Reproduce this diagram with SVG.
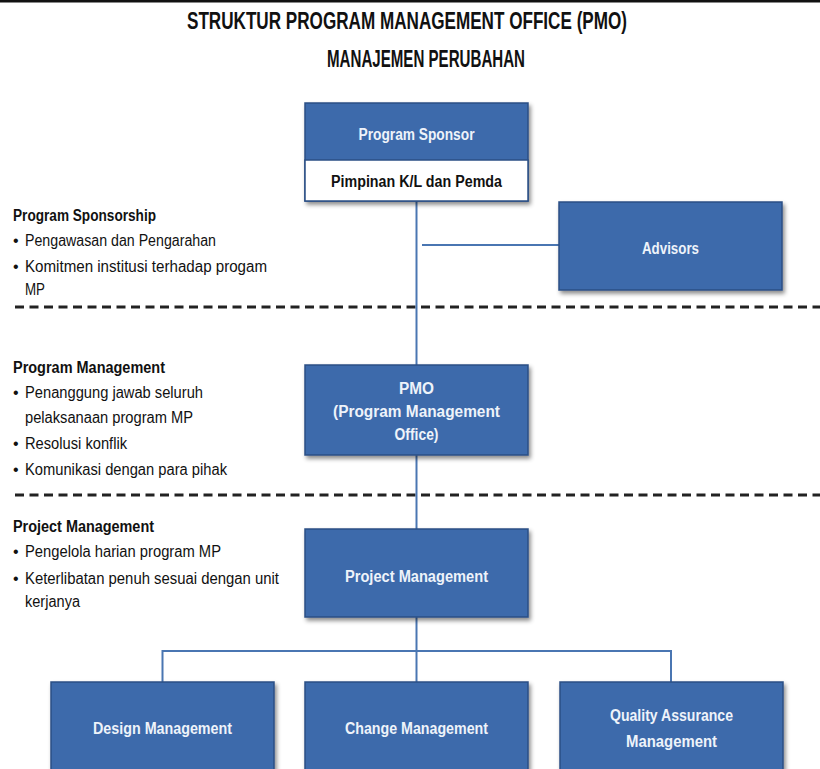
<svg xmlns="http://www.w3.org/2000/svg" width="820" height="769" viewBox="0 0 820 769">
<defs>
<filter id="sh" x="-10%" y="-10%" width="125%" height="130%">
<feDropShadow dx="2" dy="3" stdDeviation="2" flood-color="#000" flood-opacity="0.45"/>
</filter>
<style>
.box{fill:#3d6aab;stroke:#2b4f85;stroke-width:1.5;filter:url(#sh)}
.wbox{fill:#ffffff;stroke:#2b4f85;stroke-width:1.5}
.bt{font-family:"Liberation Sans",Arial,sans-serif;font-weight:bold;font-size:16px;fill:#eef3fa;text-anchor:middle}
.bk{font-family:"Liberation Sans",Arial,sans-serif;font-weight:bold;font-size:16px;fill:#111;text-anchor:middle}
.title{font-family:"Liberation Sans",Arial,sans-serif;font-weight:bold;font-size:24px;fill:#111}
.h{font-family:"Liberation Sans",Arial,sans-serif;font-weight:bold;font-size:16px;fill:#111}
.t{font-family:"Liberation Sans",Arial,sans-serif;font-size:16px;fill:#111}
.dash{stroke:#222;stroke-width:3;stroke-dasharray:9 5.5;fill:none}
.con{stroke:#4a76b2;stroke-width:2;fill:none}
</style>
</defs>
<rect x="0" y="0" width="820" height="769" fill="#ffffff"/>
<rect x="0" y="0" width="820" height="2.5" fill="#111"/>

<g id="title">
<text class="title" x="187" y="29" textLength="440" lengthAdjust="spacingAndGlyphs">STRUKTUR PROGRAM MANAGEMENT OFFICE (PMO)</text>
<text class="title" x="327" y="67" textLength="198" lengthAdjust="spacingAndGlyphs">MANAJEMEN PERUBAHAN</text>
</g>

<g id="separators">
<line class="dash" x1="15" y1="307" x2="820" y2="307"/>
<line class="dash" x1="15" y1="495" x2="820" y2="495"/>
</g>

<g id="connectors">
<line class="con" x1="416.5" y1="201" x2="416.5" y2="365"/>
<line class="con" x1="422" y1="245" x2="559" y2="245"/>
<line class="con" x1="416.5" y1="455" x2="416.5" y2="529"/>
<line class="con" x1="416.5" y1="617" x2="416.5" y2="651"/>
<polyline class="con" points="162.5,682 162.5,651 671,651 671,682"/>
<line class="con" x1="416.5" y1="651" x2="416.5" y2="682"/>
</g>

<g id="sponsorship-text">
<text class="h" x="13" y="221" textLength="143" lengthAdjust="spacingAndGlyphs">Program Sponsorship</text>
<text class="t" x="13" y="246">•</text>
<text class="t" x="25" y="246" textLength="191" lengthAdjust="spacingAndGlyphs">Pengawasan dan Pengarahan</text>
<text class="t" x="13" y="272">•</text>
<text class="t" x="25" y="272" textLength="242" lengthAdjust="spacingAndGlyphs">Komitmen institusi terhadap progam</text>
<text class="t" x="25" y="295" textLength="20" lengthAdjust="spacingAndGlyphs">MP</text>
</g>

<g id="management-text">
<text class="h" x="13" y="373" textLength="152" lengthAdjust="spacingAndGlyphs">Program Management</text>
<text class="t" x="13" y="398">•</text>
<text class="t" x="25" y="398" textLength="178" lengthAdjust="spacingAndGlyphs">Penanggung jawab seluruh</text>
<text class="t" x="25" y="423" textLength="168" lengthAdjust="spacingAndGlyphs">pelaksanaan program MP</text>
<text class="t" x="13" y="449">•</text>
<text class="t" x="25" y="449" textLength="102" lengthAdjust="spacingAndGlyphs">Resolusi konflik</text>
<text class="t" x="13" y="475">•</text>
<text class="t" x="25" y="475" textLength="202" lengthAdjust="spacingAndGlyphs">Komunikasi dengan para pihak</text>
</g>

<g id="project-text">
<text class="h" x="13" y="532" textLength="141" lengthAdjust="spacingAndGlyphs">Project Management</text>
<text class="t" x="13" y="557">•</text>
<text class="t" x="25" y="557" textLength="196" lengthAdjust="spacingAndGlyphs">Pengelola harian program MP</text>
<text class="t" x="13" y="584">•</text>
<text class="t" x="25" y="584" textLength="254" lengthAdjust="spacingAndGlyphs">Keterlibatan penuh sesuai dengan unit</text>
<text class="t" x="25" y="607" textLength="55" lengthAdjust="spacingAndGlyphs">kerjanya</text>
</g>

<g id="program-sponsor">
<rect class="box" x="305" y="103" width="223" height="98"/>
<rect class="wbox" x="305" y="160" width="223" height="41"/>
<text class="bt" x="416.5" y="140" textLength="116" lengthAdjust="spacingAndGlyphs">Program Sponsor</text>
<text class="bk" x="416.5" y="187" textLength="171" lengthAdjust="spacingAndGlyphs">Pimpinan K/L dan Pemda</text>
</g>

<g id="advisors">
<rect class="box" x="559" y="202" width="223" height="88"/>
<text class="bt" x="670.5" y="254" textLength="57" lengthAdjust="spacingAndGlyphs">Advisors</text>
</g>

<g id="pmo">
<rect class="box" x="305" y="365" width="223" height="90"/>
<text class="bt" x="416.5" y="394" textLength="35" lengthAdjust="spacingAndGlyphs">PMO</text>
<text class="bt" x="416.5" y="417" textLength="167" lengthAdjust="spacingAndGlyphs">(Program Management</text>
<text class="bt" x="416.5" y="440" textLength="44" lengthAdjust="spacingAndGlyphs">Office)</text>
</g>

<g id="project-management">
<rect class="box" x="305" y="529" width="223" height="88"/>
<text class="bt" x="416.5" y="582" textLength="143" lengthAdjust="spacingAndGlyphs">Project Management</text>
</g>

<g id="design-management">
<rect class="box" x="51" y="682" width="223" height="95"/>
<text class="bt" x="162.5" y="734" textLength="139" lengthAdjust="spacingAndGlyphs">Design Management</text>
</g>

<g id="change-management">
<rect class="box" x="305" y="682" width="223" height="95"/>
<text class="bt" x="416.5" y="734" textLength="143" lengthAdjust="spacingAndGlyphs">Change Management</text>
</g>

<g id="quality-assurance">
<rect class="box" x="560" y="682" width="223" height="95"/>
<text class="bt" x="671.5" y="721" textLength="123" lengthAdjust="spacingAndGlyphs">Quality Assurance</text>
<text class="bt" x="671.5" y="747" textLength="91" lengthAdjust="spacingAndGlyphs">Management</text>
</g>
</svg>
